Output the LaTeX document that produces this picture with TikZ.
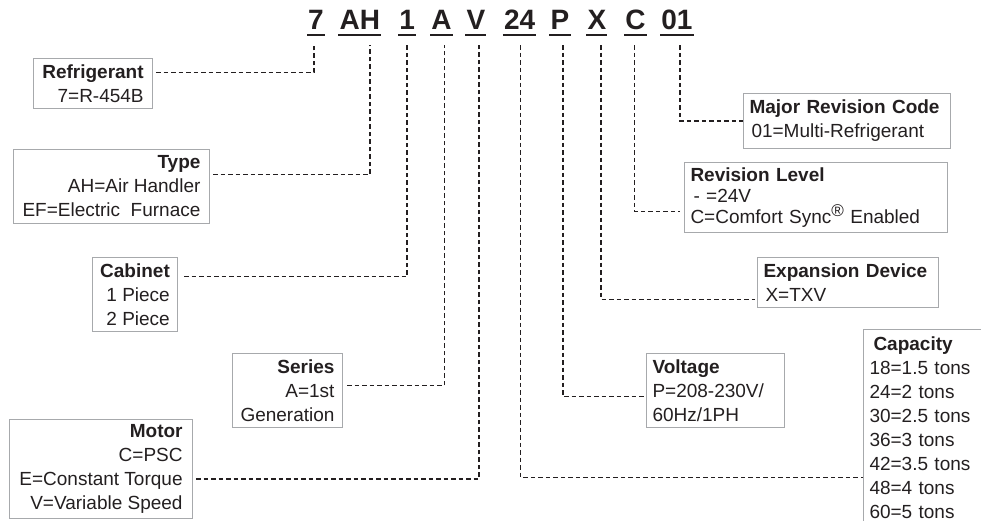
\documentclass[tikz,border=0pt]{standalone}
\usepackage{fontspec}
\setmainfont{Liberation Sans}
\usepackage{xcolor}
\usetikzlibrary{positioning,calc}
\definecolor{ink}{HTML}{231F20}
\definecolor{frame}{HTML}{A7A9AC}
\tikzset{%
    codechar/.style = { font=\fontsize{28}{28}\selectfont\bfseries, text=ink, inner sep=0pt },
    codeline/.style = { ink, line width=2.4pt },
      leader/.style = { ink, line width=1.6pt, dash pattern=on 4.5pt off 3pt },
     infobox/.style = { draw=frame, line width=1pt, text=ink, anchor=north west,
                        font=\fontsize{19}{24}\selectfont, inner ysep=2pt },
       rinfo/.style = { infobox, align=right, inner xsep=4pt },
       linfo/.style = { infobox, align=left, inner xsep=6pt }
}

\begin{document}
\begin{tikzpicture}[x=1pt,y=-1pt]
\useasboundingbox (0,0) rectangle (981,521);
\clip (0,0) rectangle (981,521);
% model number
\node[codechar, anchor=base west] (c7) at (308,30) {7};
\node[codechar, base right=15.4pt of c7]  (cAH) {AH};
\node[codechar, base right=19pt of cAH] (c1)  {1};
\node[codechar, base right=16pt of c1]  (cA)  {A};
\node[codechar, base right=14.5pt of cA]  (cV)  {V};
\node[codechar, base right=18.5pt of cV]  (c24) {24};
\node[codechar, base right=15pt of c24] (cP)  {P};
\node[codechar, base right=17.8pt of cP]  (cX)  {X};
\node[codechar, base right=18.8pt of cX]  (cC)  {C};
\node[codechar, base right=15.4pt of cC]  (c01) {01};
\foreach \c in {c7,cAH,c1,cA,cV,c24,cP,cX,cC,c01}
  \draw[codeline] ([xshift=-1pt,yshift=-5pt]\c.base west) -- ([xshift=1pt,yshift=-5pt]\c.base east);
% left side
\node[rinfo, minimum width=119pt, minimum height=50pt] (refrigerant) at (33,58)
  {\textbf{Refrigerant}\\7=R-454B};
\node[rinfo, minimum width=196pt, minimum height=74pt] (type) at (13,149)
  {\textbf{Type}\\AH=Air Handler\\EF=Electric\ \ Furnace};
\node[rinfo, minimum width=85pt, minimum height=74pt] (cabinet) at (92,257)
  {\textbf{Cabinet}\\1 Piece\\2 Piece};
\node[rinfo, minimum width=110pt, minimum height=74pt] (series) at (232,353)
  {\textbf{Series}\\A=1st\\Generation};
\node[rinfo, minimum width=183pt, minimum height=99pt] (motor) at (9,419)
  {\textbf{Motor}\\C=PSC\\E=Constant Torque\\V=Variable Speed};
% right side
\node[linfo, text width=195pt, minimum height=55pt] (majorrev) at (743,93)
  {\textbf{Major Revision Code}\\\hspace{2pt}01=Multi-Refrigerant};
\node[linfo, text width=251pt, minimum height=70pt, font=\fontsize{19}{21}\selectfont] (revlevel) at (684,162)
  {\textbf{Revision Level}\\\hspace{3pt}- =24V\\C=Comfort Sync{\fontsize{17}{17}\selectfont\raisebox{7pt}{®}} Enabled};
\node[linfo, text width=169pt, minimum height=50pt] (expansion) at (757,257)
  {\textbf{Expansion Device}\\\hspace{2pt}X=TXV};
\node[linfo, text width=126pt, minimum height=74pt] (voltage) at (646,353)
  {\textbf{Voltage}\\P=208-230V/\\60Hz/1PH};
\node[linfo, text width=110pt, inner ysep=7pt] (capacity) at (863,329)
  {\hspace{4pt}\textbf{Capacity}\\18=1.5 tons\\24=2 tons\\30=2.5 tons\\36=3 tons\\42=3.5 tons\\48=4 tons\\60=5 tons};
% leaders
\draw[leader] ([xshift=3pt,yshift=11pt]refrigerant.east) -| ([xshift=-2pt,yshift=-15pt]c7.south);
\draw[leader] ([xshift=3pt,yshift=12pt]type.east) -| ([xshift=10pt,yshift=-15pt]cAH.south);
\draw[leader] ([xshift=6pt,yshift=18pt]cabinet.east) -| ([yshift=-15pt]c1.south);
\draw[leader] ([xshift=4pt,yshift=5pt]series.east) -| ([xshift=3pt,yshift=-15pt]cA.south);
\draw[leader] ([xshift=3pt,yshift=-10pt]motor.east) -| ([xshift=3pt,yshift=-15pt]cV.south);
\draw[leader] ([xshift=1pt,yshift=-15pt]c24.south) |- ([yshift=-50pt]capacity.west);
\draw[leader] ([xshift=3pt,yshift=-15pt]cP.south) |- ([yshift=-6pt]voltage.west);
\draw[leader] ([xshift=4pt,yshift=-15pt]cX.south) |- ([xshift=-2pt,yshift=-17pt]expansion.west);
\draw[leader] ([xshift=-1pt,yshift=-15pt]cC.south) |- ([xshift=-4pt,yshift=-14pt]revlevel.west);
\draw[leader] ([xshift=3pt,yshift=-15pt]c01.south) |- (majorrev.west);
\end{tikzpicture}
\end{document}
